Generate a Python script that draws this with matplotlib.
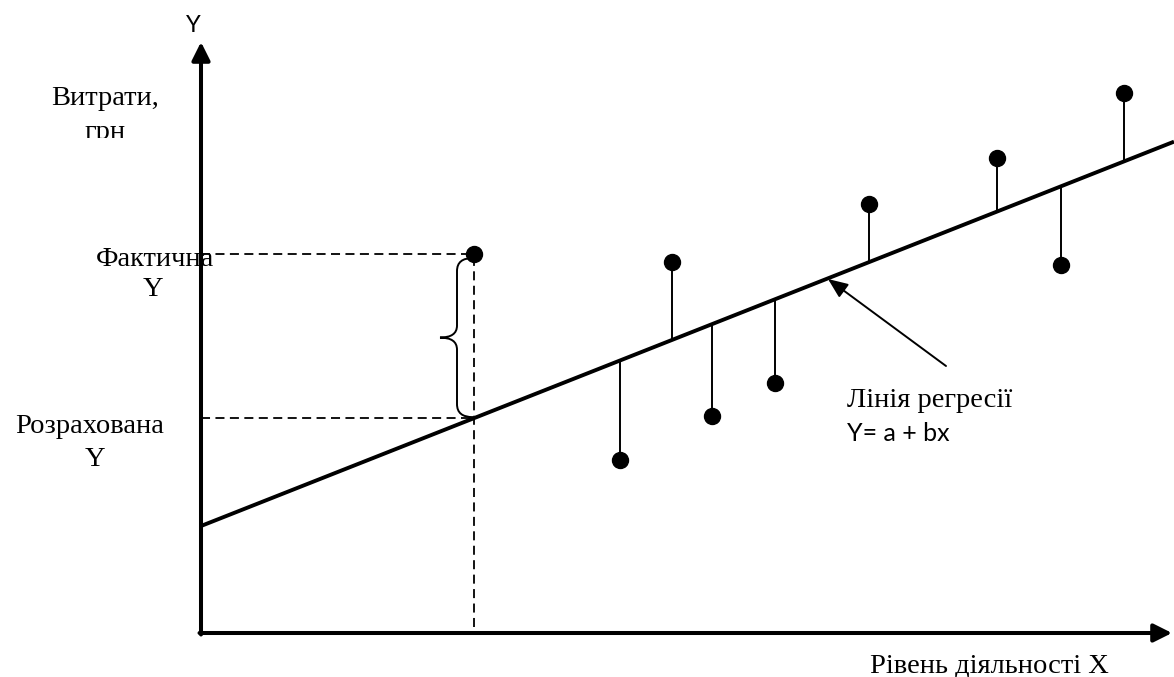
import matplotlib
matplotlib.use("Agg")
import matplotlib.pyplot as plt
from matplotlib.path import Path
from matplotlib.patches import PathPatch
from matplotlib.transforms import Bbox, TransformedBbox

# observed points (x = activity level, y = costs)
obs_x = [273, 419, 471, 511, 574, 668, 796, 860, 923]
obs_y = [379, 173, 371, 217, 250, 429, 475, 368, 540]

# regression line Y = a + bx
a = 107
b = 0.395
line_x = [0, 973]

# the one point explained with dashed guides
hl_x = obs_x[0]
hl_y = obs_y[0]

SERIF = "Liberation Serif"
SANS = "Lato"

fig = plt.figure(figsize=(11.74, 6.77), dpi=100)
ax = fig.add_axes([0, 0, 1, 1])
ax.set_xlim(-201, 973)
ax.set_ylim(-44, 633)
ax.set_axis_off()

# axes with arrow heads
arrow_kw = dict(arrowstyle="-|>,head_length=1.1,head_width=0.55",
                lw=2.9, color="black", shrinkA=0, shrinkB=0, mutation_scale=10)
ax.annotate("", xy=(0, 591), xytext=(0, -1.5), arrowprops=arrow_kw)
ax.annotate("", xy=(971, 0), xytext=(-1.5, 0), arrowprops=arrow_kw)

# regression line
ax.plot(line_x, [a + b * x for x in line_x], color="black", lw=2.8,
        solid_capstyle="butt")

# stems from each point to the line
for x, y in zip(obs_x[1:], obs_y[1:]):
    ax.plot([x, x], [y, a + b * x], color="black", lw=1.4)

ax.plot(obs_x, obs_y, "o", color="black", ms=11.5)

# dashed guides for the highlighted point
fit_hl = a + b * hl_x
dash = (0, (5, 3))
ax.plot([0, hl_x], [hl_y, hl_y], color="black", lw=1.3, linestyle=dash)
ax.plot([0, hl_x], [fit_hl, fit_hl], color="black", lw=1.3, linestyle=dash)
ax.plot([hl_x, hl_x], [6, hl_y], color="black", lw=1.3, linestyle=dash)

# curly brace between actual and fitted Y
bx_end, bx_mid, bx_tip = hl_x - 1, hl_x - 17, hl_x - 34
y_top, y_bot = hl_y - 4, fit_hl + 1
y_mid = (y_top + y_bot) / 2
verts = [(bx_end, y_top), (bx_mid, y_top), (bx_mid, y_top - 13),
         (bx_mid, y_mid + 12), (bx_mid, y_mid), (bx_tip, y_mid),
         (bx_mid, y_mid), (bx_mid, y_mid - 12),
         (bx_mid, y_bot + 13), (bx_mid, y_bot), (bx_end, y_bot)]
codes = [Path.MOVETO, Path.CURVE3, Path.CURVE3,
         Path.LINETO, Path.CURVE3, Path.CURVE3,
         Path.CURVE3, Path.CURVE3,
         Path.LINETO, Path.CURVE3, Path.CURVE3]
ax.add_patch(PathPatch(Path(verts, codes), fill=False, lw=1.4, color="black"))

# arrow pointing at the regression line
ax.annotate("", xy=(627, 354), xytext=(745, 267),
            arrowprops=dict(arrowstyle="-|>,head_length=1.2,head_width=0.5",
                            lw=1.4, color="black", shrinkA=0, shrinkB=0,
                            mutation_scale=10))

# texts
ax.text(-8, 607, "Y", family=SANS, fontsize=17, ha="center", va="center")
ax.text(-96, 528, "Витрати,", family=SERIF, fontsize=20.5, ha="center",
        va="baseline")
# second line of the label is cut off in the original
t = ax.text(-96, 494, "грн", family=SERIF, fontsize=20.5, ha="center",
            va="baseline")
t.set_clip_box(TransformedBbox(Bbox([[-200, 495.5], [0, 560]]), ax.transData))
t.set_clip_on(True)
ax.text(-46, 367, "Фактична", family=SERIF, fontsize=20.5, ha="center",
        va="baseline")
ax.text(-48, 337, "Y", family=SERIF, fontsize=20.5, ha="center", va="baseline")
ax.text(-111, 200, "Розрахована", family=SERIF, fontsize=20.5, ha="center",
        va="baseline")
ax.text(-106, 167, "Y", family=SERIF, fontsize=20.5, ha="center", va="baseline")
ax.text(646, 226, "Лінія регресії", family=SERIF, fontsize=20.5, ha="left",
        va="baseline")
ax.text(646, 192, "Y= a + bx", family=SANS, fontsize=18, ha="left",
        va="baseline")
ax.text(669, -40, "Рівень діяльності X", family=SERIF, fontsize=20.5,
        ha="left", va="baseline")

fig.savefig("out.png", dpi=100)
